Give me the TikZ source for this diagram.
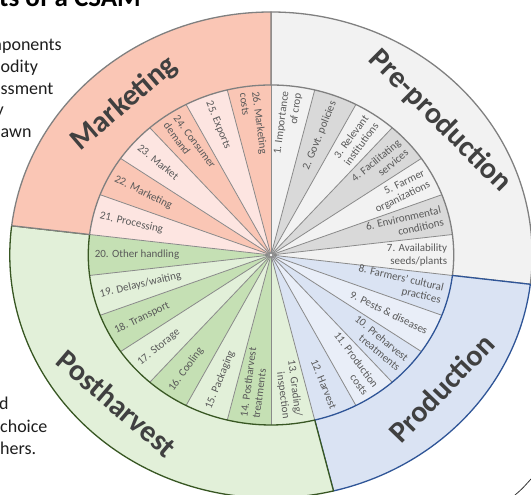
\documentclass[tikz,border=0pt]{standalone}
\usepackage{fontspec}
\setmainfont{Carlito}
\definecolor{preFill}{HTML}{F2F2F2}
\definecolor{preDark}{HTML}{D9D9D9}
\definecolor{preLine}{HTML}{808080}
\definecolor{proFill}{HTML}{DAE3F3}
\definecolor{proLight}{HTML}{E9EEF8}
\definecolor{proLine}{HTML}{2F5597}
\definecolor{posFill}{HTML}{E2F0D9}
\definecolor{posDark}{HTML}{C5E0B4}
\definecolor{posLine}{HTML}{385723}
\definecolor{mktFill}{HTML}{FAC6B5}
\definecolor{mktLight}{HTML}{FDE5E1}
\definecolor{mktLine}{HTML}{808080}
\definecolor{spoke}{HTML}{8A8A8A}
\definecolor{lbl}{HTML}{595959}
\definecolor{head}{HTML}{404040}
\definecolor{bodyc}{HTML}{1E1E1E}
\usetikzlibrary{calc}

% label of wedge #1 (1..26), clockwise from the top, text #2
\newcommand\wedgelabel[2]{%
  \pgfmathsetmacro\wth{90-(#1-0.5)*360/26}%
  \pgfmathsetmacro\wph{atan2(sin(\wth),1.075*cos(\wth))}%
  \ifnum#1<14
    \node[wlab, anchor=east, align=right, rotate=\wph] (w#1) at (\wth:165) {#2};%
  \else
    \node[wlab, anchor=west, align=left, rotate=\wph+180] (w#1) at (\wth:165) {#2};%
  \fi
}

\begin{document}
\begin{tikzpicture}[x=1pt,y=1pt,
  wlab/.style={text=lbl, font=\fontsize{11}{12.5}\selectfont, inner sep=1pt},
  ringlab/.style={text=head, font=\fontsize{30}{34}\selectfont\bfseries, inner sep=0pt},
  bodytext/.style={text=bodyc, font=\fontsize{18}{21}\selectfont, inner sep=0pt, anchor=base west},
  spokeline/.style={draw=spoke, line width=0.8pt},
  ringedge/.style={line width=1.3pt, line join=round}]

\useasboundingbox (0,0) rectangle (531,495);
\clip (0,0) rectangle (531,495);
\fill[white] (0,0) rectangle (531,495);

% slide text behind the wheel
\node[anchor=base west, inner sep=0pt, text=black, font=\fontsize{27}{30}\selectfont\bfseries] (title) at (-1,488) {ts of a CSAM};
\node[bodytext] (b1) at (-12.5,444) {mponents};
\node[bodytext] (b2) at (0.5,422) {odity};
\node[bodytext] (b3) at (0.5,400) {ssment};
\node[bodytext] (b4) at (-4.5,379) {y};
\node[bodytext] (b5) at (0.5,357) {awn};
\node[bodytext] (b6) at (-1,85) {d};
\node[bodytext] (b7) at (0,62) {choice};
\node[bodytext] (b8) at (0,40) {hers.};

% the wheel
\begin{scope}[shift={(271,240)}, xscale=1.075]
  % inner wedges
  \foreach \k/\c in {1/preFill,2/preDark,3/preFill,4/preDark,5/preFill,6/preDark,7/preFill,
      8/proFill,9/proLight,10/proFill,11/proLight,12/proFill,
      13/posFill,14/posDark,15/posFill,16/posDark,17/posFill,18/posDark,19/posFill,20/posDark,
      21/mktLight,22/mktFill,23/mktLight,24/mktFill,25/mktLight,26/mktFill} {
    \pgfmathsetmacro\sa{90-(\k-1)*360/26}
    \pgfmathsetmacro\ea{90-\k*360/26}
    \fill[\c] (0,0) -- (\sa:170) arc[start angle=\sa, end angle=\ea, radius=170] -- cycle;
  }
  \foreach \k in {0,...,25}
    \draw[spokeline] (0,0) -- ({90-\k*360/26}:170);
  \fill[white] (0,0) circle (1.3);

  % outer ring: the four stages
  \filldraw[fill=preFill, draw=preLine, ringedge]
    (90:170) -- (90:243) arc[start angle=90, end angle=-6.923, radius=243]
    -- (-6.923:170) arc[start angle=-6.923, end angle=90, radius=170] -- cycle;
  \filldraw[fill=proFill, draw=proLine, ringedge]
    (-6.923:170) -- (-6.923:243) arc[start angle=-6.923, end angle=-76.154, radius=243]
    -- (-76.154:170) arc[start angle=-76.154, end angle=-6.923, radius=170] -- cycle;
  \filldraw[fill=posFill, draw=posLine, ringedge]
    (-76.154:170) -- (-76.154:243) arc[start angle=-76.154, end angle=-186.923, radius=243]
    -- (-186.923:170) arc[start angle=-186.923, end angle=-76.154, radius=170] -- cycle;
  \filldraw[fill=mktFill, draw=mktLine, ringedge]
    (173.077:170) -- (173.077:243) arc[start angle=173.077, end angle=90, radius=243]
    -- (90:170) arc[start angle=90, end angle=173.077, radius=170] -- cycle;

  % stage names
  \node[ringlab, rotate=-45] (preprod) at (40.4:206.5) {Pre-production};
  \node[ringlab, rotate=46] (prod) at (-40:207) {Production};
  \node[ringlab, rotate=-40.5] (post) at (-134:206.5) {Postharvest};
  \node[ringlab, rotate=40.5] (mkt) at (132:204) {Marketing};

  % components
  \wedgelabel{1}{1. Importance\\of crop}
  \wedgelabel{2}{2. Govt. policies}
  \wedgelabel{3}{3. Relevant\\institutions}
  \wedgelabel{4}{4. Facilitating\\services}
  \wedgelabel{5}{5. Farmer\\organizations}
  \wedgelabel{6}{6. Environmental\\conditions}
  \wedgelabel{7}{7. Availability\\seeds/plants}
  \wedgelabel{8}{8. Farmers' cultural\\practices}
  \wedgelabel{9}{9. Pests \& diseases}
  \wedgelabel{10}{10. Preharvest\\treatments}
  \wedgelabel{11}{11. Production\\costs}
  \wedgelabel{12}{12. Harvest}
  \wedgelabel{13}{13. Grading/\\inspection}
  \wedgelabel{14}{14. Postharvest\\treatments}
  \wedgelabel{15}{15. Packaging}
  \wedgelabel{16}{16. Cooling}
  \wedgelabel{17}{17. Storage}
  \wedgelabel{18}{18. Transport}
  \wedgelabel{19}{19. Delays/waiting}
  \wedgelabel{20}{20. Other handling}
  \wedgelabel{21}{21. Processing}
  \wedgelabel{22}{22. Marketing}
  \wedgelabel{23}{23. Market}
  \wedgelabel{24}{24. Consumer\\demand}
  \wedgelabel{25}{25. Exports}
  \wedgelabel{26}{26. Marketing\\costs}
\end{scope}

% stray stroke in the lower right corner
\coordinate (arcA) at (515,0);
\coordinate (arcB) at (531,16);
\draw[line width=0.8pt, black!80] (arcA) .. controls (522,6) .. (arcB);
\end{tikzpicture}
\end{document}
